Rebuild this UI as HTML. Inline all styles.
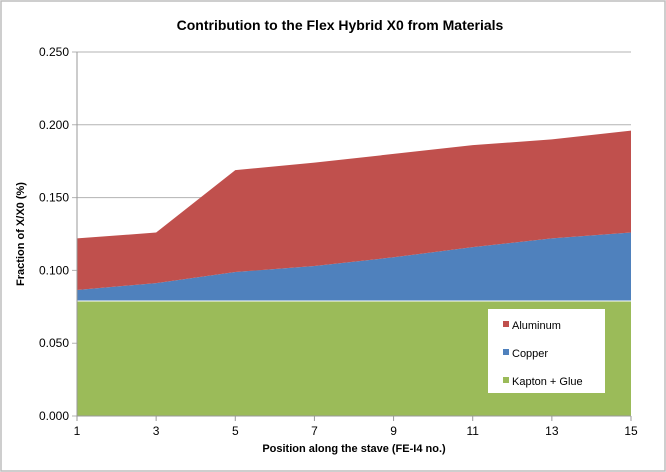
<!DOCTYPE html>
<html><head><meta charset="utf-8"><style>
body{margin:0;background:#fff;}
svg{display:block;font-family:"Liberation Sans",sans-serif;}
</style></head><body>
<svg id="c" width="666" height="472" xmlns="http://www.w3.org/2000/svg">
<rect x="1" y="1" width="664" height="470" fill="#fff" stroke="#bdbdbd" stroke-width="1.5"/>
<text x="340" y="30" text-anchor="middle" font-size="14" font-weight="bold">Contribution to the Flex Hybrid X0 from Materials</text>
<g id="grid"></g><g id="areas"></g><g id="axes"></g>
<text transform="translate(24,234) rotate(-90)" text-anchor="middle" font-size="11" font-weight="bold">Fraction of X/X0 (%)</text>
<text x="354" y="452" text-anchor="middle" font-size="11" font-weight="bold">Position along the stave (FE-I4 no.)</text>
<g>
<rect x="488" y="309" width="117" height="84" fill="#fff"/>
<rect x="503" y="321" width="6" height="6" fill="#c0504d"/>
<text x="512" y="329" font-size="11">Aluminum</text>
<rect x="503" y="349" width="6" height="6" fill="#4f81bd"/>
<text x="512" y="357" font-size="11">Copper</text>
<rect x="503" y="377" width="6" height="6" fill="#9bbb59"/>
<text x="512" y="385" font-size="11">Kapton + Glue</text>
</g>
</svg>
<script>
const positions=[1,3,5,7,9,11,13,15];
const kapton=[0.079,0.079,0.079,0.079,0.079,0.079,0.079,0.079];
const copper=[0.0075,0.0123,0.0199,0.024,0.030,0.037,0.043,0.047];
const aluminum=[0.0355,0.0347,0.070,0.071,0.071,0.070,0.068,0.070];
const yTicks=[0,0.05,0.1,0.15,0.2,0.25];
const xTicks=[1,3,5,7,9,11,13,15];
const L=77,R=631,T=52,B=416;
const NS="http://www.w3.org/2000/svg";
const xs=v=>L+(v-1)/14*(R-L);
const ys=v=>B-v/0.25*(B-T);
function mk(t,a,p){const e=document.createElementNS(NS,t);for(const k in a)e.setAttribute(k,a[k]);p.appendChild(e);return e;}
const grid=document.getElementById('grid'),areas=document.getElementById('areas'),axes=document.getElementById('axes');
yTicks.forEach(v=>{
 const g=mk('line',{x1:L-5,x2:R,y1:ys(v),y2:ys(v),stroke:'#b3b3b3','stroke-width':1},grid);
 
 
 const t=mk('text',{x:L-8,y:ys(v)+4,'text-anchor':'end','font-size':12},axes);t.textContent=v.toFixed(3);
 
 
});
const series=[{n:'kapton',d:kapton,c:'#9bbb59'},{n:'copper',d:copper,c:'#4f81bd'},{n:'aluminum',d:aluminum,c:'#c0504d'}];
let base=positions.map(()=>0);
const tops=[];
series.forEach(s=>{
 const top=base.map((b,i)=>b+s.d[i]);
 tops.push(top);
 let pts=positions.map((p,i)=>xs(p)+','+ys(top[i]));
 pts=pts.concat(positions.slice().reverse().map((p,j)=>{const i=positions.length-1-j;return xs(p)+','+ys(base[i]);}));
 const a=mk('polygon',{points:pts.join(' '),fill:s.c},areas);
 
 
 base=top;
});
const kl=mk('polyline',{points:positions.map((p,i)=>xs(p)+','+ys(tops[0][i])).join(' '),fill:'none',stroke:'#fff','stroke-width':1},areas);


const ax=mk('line',{x1:L,x2:L,y1:T,y2:B,stroke:'#999'},axes);


const bx=mk('line',{x1:L,x2:R,y1:B,y2:B,stroke:'#999'},axes);


xTicks.forEach(v=>{
 const tk=mk('line',{x1:xs(v),x2:xs(v),y1:B,y2:B+5,stroke:'#999'},axes);
 
 
 const t=mk('text',{x:xs(v),y:B+19,'text-anchor':'middle','font-size':12},axes);t.textContent=v;
 
 
});
</script>
</body></html>
